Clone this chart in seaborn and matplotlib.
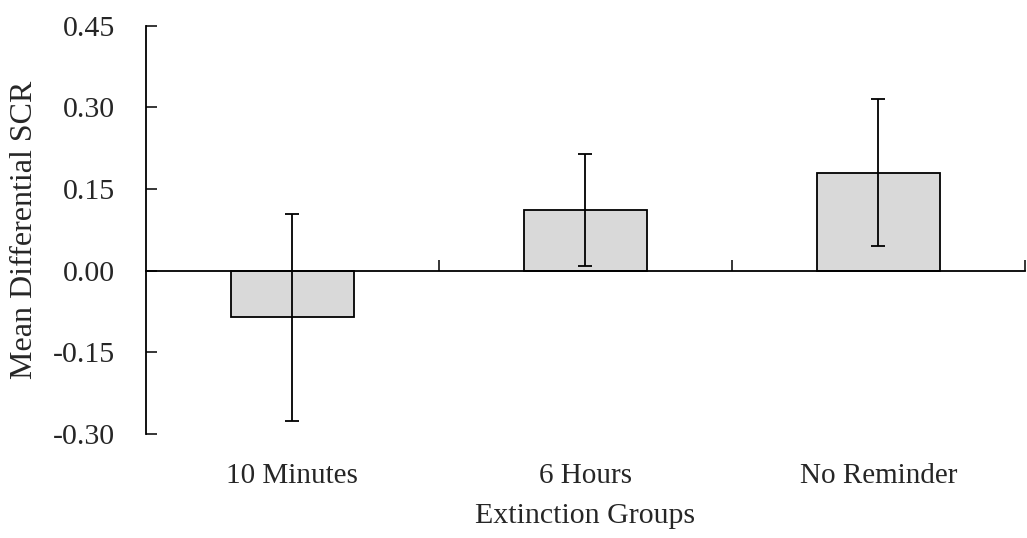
import matplotlib
matplotlib.use("Agg")
import matplotlib.pyplot as plt
import seaborn as sns

# data
groups = ["10 Minutes", "6 Hours", "No Reminder"]
means = [-0.085, 0.112, 0.180]
errors = [0.190, 0.103, 0.135]
y_ticks = [-0.30, -0.15, 0.00, 0.15, 0.30, 0.45]
y_tick_labels = ["-0.30", "-0.15", "0.00", "0.15", "0.30", "0.45"]

sns.set_style("white")
plt.rcParams["font.family"] = ["Liberation Serif", "DejaVu Serif"]
plt.rcParams["font.size"] = 21

fig = plt.figure(figsize=(10.27, 5.38), dpi=100)
ax = fig.add_axes([0.142, 0.193, 0.856, 0.759])

sns.barplot(x=groups, y=means, color="#d9d9d9", edgecolor="black",
            linewidth=1.3, width=0.418, saturation=1, errorbar=None, ax=ax)
ax.errorbar(range(len(groups)), means, yerr=errors, fmt="none",
            ecolor="black", elinewidth=1.3, capsize=5, capthick=1.3)

ax.set_xlim(-0.5, 2.5)
ax.set_ylim(-0.30, 0.45)
ax.set_yticks(y_ticks)
ax.set_yticklabels(y_tick_labels)
ax.tick_params(axis="y", direction="in", length=8, width=1.3, pad=22,
               labelsize=21.5, left=True)

# x axis line at zero with ticks between the categories
ax.spines["bottom"].set_position(("data", 0))
ax.spines["top"].set_visible(False)
ax.spines["right"].set_visible(False)
for s in ["left", "bottom"]:
    ax.spines[s].set_color("black")
    ax.spines[s].set_linewidth(1.3)
ax.set_xticks([0.5, 1.5, 2.5])
ax.set_xticklabels([])
ax.tick_params(axis="x", direction="in", length=8, width=1.3, bottom=True)
ax.set_xlabel("")
ax.set_ylabel("Mean Differential SCR", fontsize=23, labelpad=10)

# category labels at the bottom of the plot area
sec = ax.secondary_xaxis(location=0)
sec.set_xticks(range(len(groups)))
sec.set_xticklabels(groups, fontsize=21)
sec.tick_params(length=0, pad=21)
sec.spines["bottom"].set_visible(False)
sec.set_xlabel("Extinction Groups", fontsize=21.5, labelpad=10)

fig.savefig("out.png", dpi=100, facecolor="white")
